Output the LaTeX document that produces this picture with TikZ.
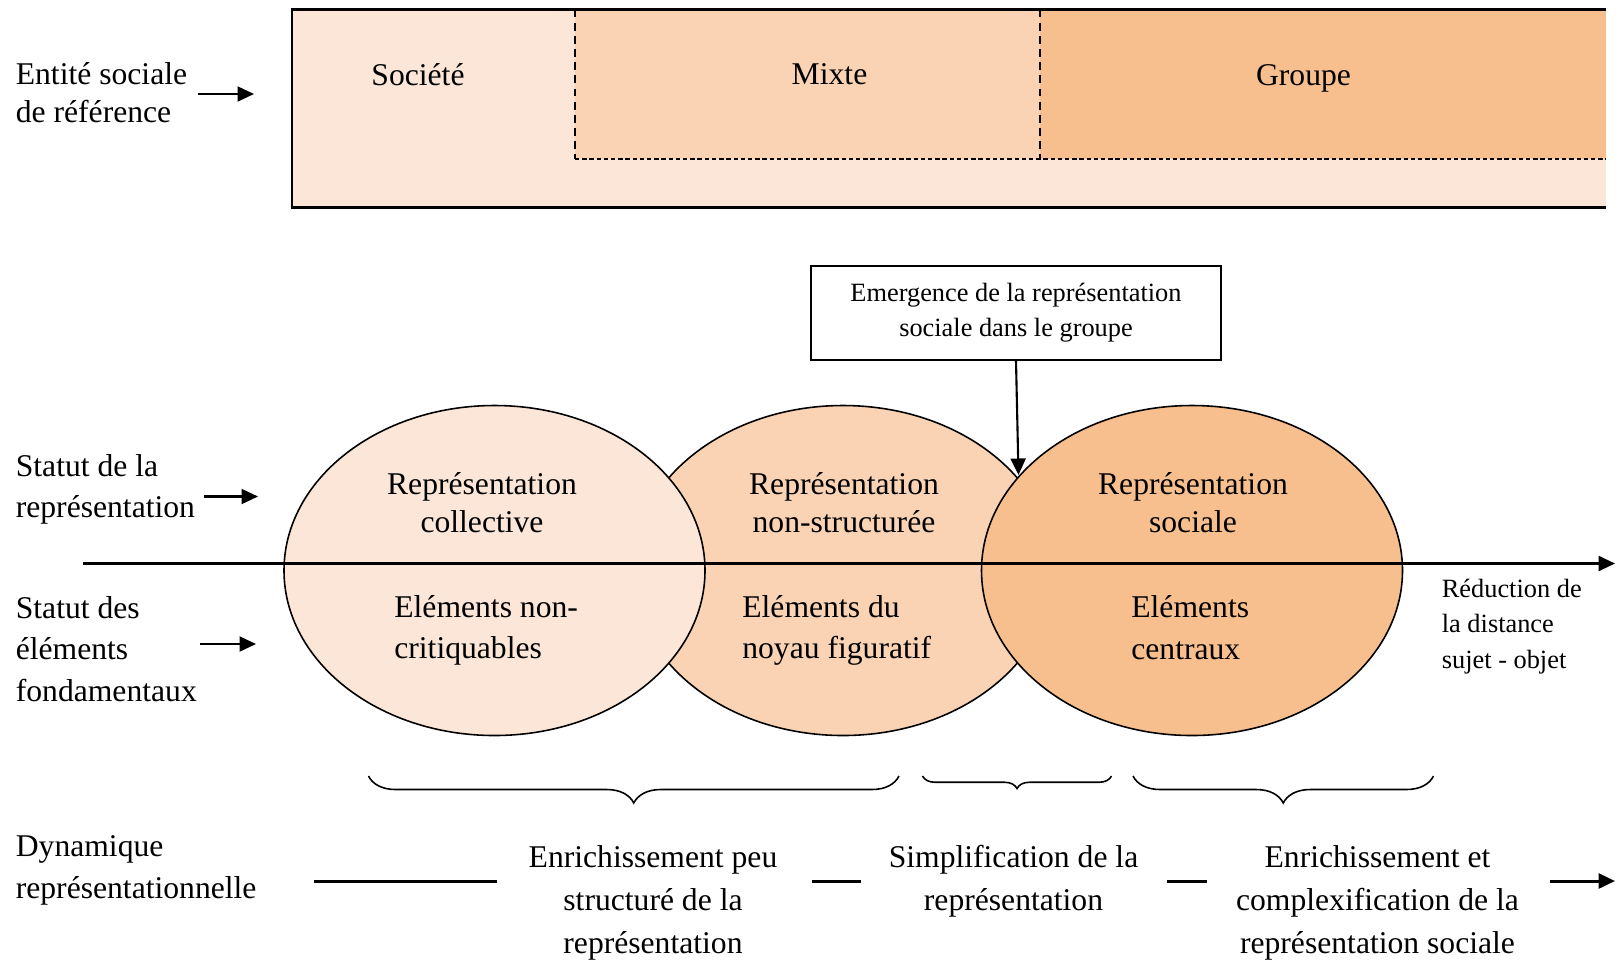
\documentclass[tikz,border=0pt]{standalone}
\usepackage{fontspec}
\setmainfont{Liberation Serif}
\usetikzlibrary{shapes.geometric, arrows.meta, decorations.pathreplacing}

\definecolor{orLight}{HTML}{FBE6D7}
\definecolor{orMid}{HTML}{FAD3B4}
\definecolor{orDark}{HTML}{F8BF8E}

\begin{document}
\begin{tikzpicture}[
  every node/.style={font=\fontsize{18}{23.5}\selectfont, inner sep=0pt},
  lbl/.style={align=left, anchor=west},
  txt/.style={align=center},
  serre/.style={font=\fontsize{18}{21.5}\selectfont},
  large/.style={font=\fontsize{18}{24.3}\selectfont},
  small/.style={font=\fontsize{15}{20}\selectfont},
  bulle/.style={ellipse, draw, line width=0.9pt, minimum width=8.42cm, minimum height=6.6cm},
  arr/.style={-{Triangle[length=3.3mm, width=3mm]}, line width=1.2pt},
  accol/.style={decorate, decoration={brace, mirror, amplitude=#1}, line width=0.9pt}
]
  \useasboundingbox (0,0) rectangle (32.36,-19.24);

  % bande du haut
  \fill[orLight] (5.84,-0.19) rectangle (32.11,-4.15);
  \fill[orMid] (11.50,-0.19) rectangle (20.80,-3.18);
  \fill[orDark] (20.80,-0.19) rectangle (32.11,-3.18);
  \draw[dash pattern=on 4.5pt off 3pt, line width=0.8pt] (11.50,-0.19) -- (11.50,-3.18);
  \draw[dash pattern=on 4.5pt off 3pt, line width=0.8pt] (20.80,-0.19) -- (20.80,-3.18);
  \draw[dash pattern=on 2.5pt off 1.6pt, line width=1pt] (11.50,-3.18) -- (32.11,-3.18);
  \draw[line width=1.2pt] (32.11,-0.19) -- (5.84,-0.19) -- (5.84,-4.15) -- (32.11,-4.15);

  \node[lbl, serre] (entite) at (0.31,-1.86) {Entité sociale\\de référence};
  \node[txt] (societe) at (8.36,-1.49) {Société};
  \node[txt] (mixte) at (16.59,-1.49) {Mixte};
  \node[txt] (groupe) at (26.07,-1.57) {Groupe};
  \coordinate (ent1) at (3.96,-1.88);
  \coordinate (ent2) at (5.08,-1.88);
  \draw[arr] (ent1) -- (ent2);

  % emergence
  \node[draw, small, txt, line width=0.9pt, minimum width=8.19cm, minimum height=1.88cm]
    (emerg) at (20.32,-6.26) {Emergence de la représentation\\sociale dans le groupe};

  % bulles
  \node[bulle, fill=orMid] (e2) at (16.86,-11.41) {};
  \node[bulle, fill=orLight] (e1) at (9.89,-11.41) {};
  \node[bulle, fill=orDark] (e3) at (23.84,-11.41) {};
  \coordinate (jonc) at (20.37,-9.50);
  \draw[arr] (emerg.south) -- (jonc);

  \coordinate (axeG) at (1.65,-11.27);
  \coordinate (axeD) at (32.30,-11.27);
  \draw[arr, line width=1.4pt] (axeG) -- (axeD);

  \node[txt, serre] (rcoll) at (9.64,-10.05) {Représentation\\collective};
  \node[txt, serre] (rnons) at (16.88,-10.05) {Représentation\\non-structurée};
  \node[txt, serre] (rsoc) at (23.86,-10.05) {Représentation\\sociale};
  \node[lbl] (ecrit) at (7.88,-12.61) {Eléments non-\\critiquables};
  \node[lbl] (enoyau) at (14.84,-12.61) {Eléments du\\noyau figuratif};
  \node[lbl] (ecentr) at (22.62,-12.55) {Eléments\\centraux};
  \node[lbl, small] (reduc) at (28.83,-12.53) {Réduction de\\la distance\\sujet - objet};

  % etiquettes de gauche
  \node[lbl] (statrep) at (0.31,-9.79) {Statut de la\\représentation};
  \node[lbl] (statel) at (0.31,-12.98) {Statut des\\éléments\\fondamentaux};
  \node[lbl] (dyn) at (0.31,-17.41) {Dynamique\\représentationnelle};
  \coordinate (sr1) at (4.07,-9.93);
  \coordinate (sr2) at (5.16,-9.93);
  \draw[arr] (sr1) -- (sr2);
  \coordinate (se1) at (4.00,-12.88);
  \coordinate (se2) at (5.12,-12.88);
  \draw[arr] (se1) -- (se2);

  % accolades
  \draw[accol=0.54cm] (7.37,-15.52) -- (17.98,-15.52);
  \draw[accol=0.25cm] (18.45,-15.52) -- (22.23,-15.52);
  \draw[accol=0.54cm] (22.66,-15.52) -- (28.67,-15.52);

  % dynamique
  \node[txt, large] (enr1) at (13.06,-18.06) {Enrichissement peu\\structuré de la\\représentation};
  \node[txt, large] (simpl) at (20.27,-17.62) {Simplification de la\\représentation};
  \node[txt, large] (enr2) at (27.55,-18.06) {Enrichissement et\\complexification de la\\représentation sociale};
  \coordinate (d1) at (6.27,-17.62);
  \coordinate (d2) at (9.93,-17.62);
  \coordinate (d3) at (16.24,-17.62);
  \coordinate (d4) at (17.21,-17.62);
  \coordinate (d5) at (23.34,-17.62);
  \coordinate (d6) at (24.13,-17.62);
  \coordinate (d7) at (31.00,-17.62);
  \coordinate (d8) at (32.30,-17.62);
  \draw[line width=1.7pt] (d1) -- (d2);
  \draw[line width=1.7pt] (d3) -- (d4);
  \draw[line width=1.7pt] (d5) -- (d6);
  \draw[arr, line width=1.7pt] (d7) -- (d8);
\end{tikzpicture}
\end{document}
